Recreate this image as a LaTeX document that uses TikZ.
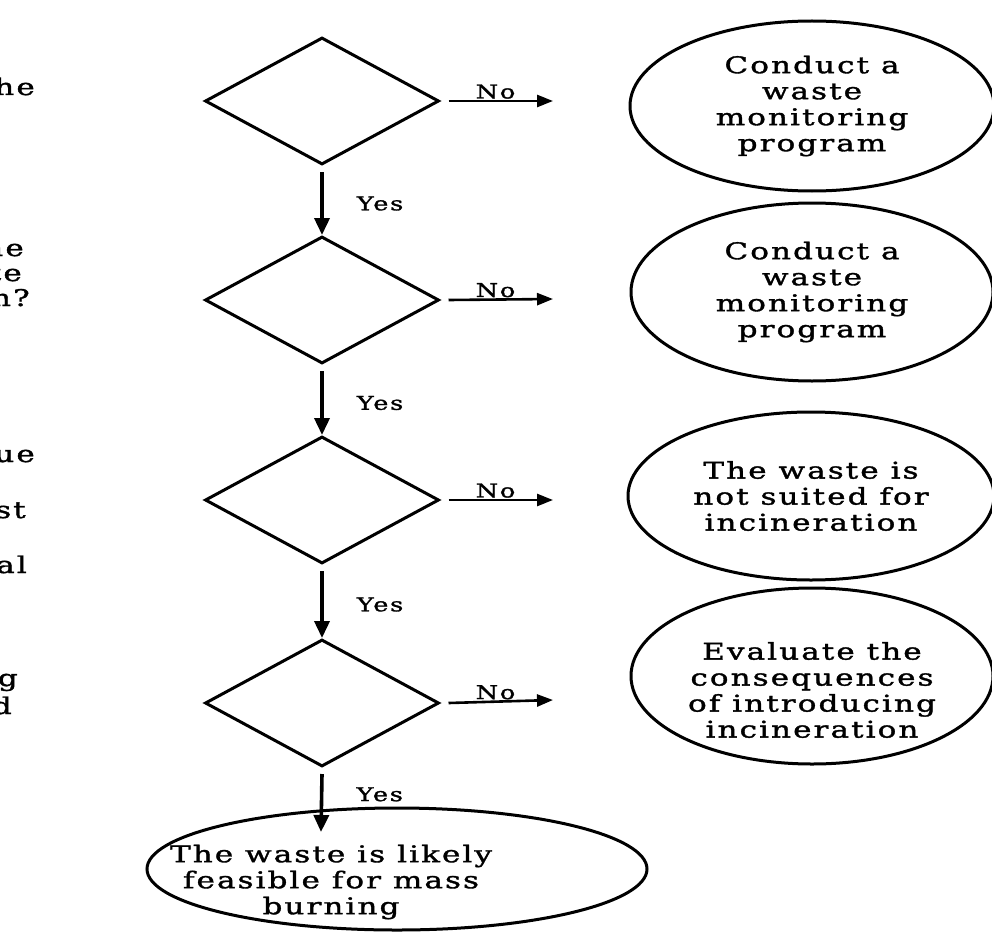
\documentclass[tikz,border=0pt]{standalone}
\usepackage{fontspec}
\setmainfont{DejaVu Serif}[FakeStretch=1.35,LetterSpace=9,FakeBold=1.5]
\usetikzlibrary{shapes.geometric,arrows.meta}
\newcommand{\bodytxt}{\fontsize{23}{26}\selectfont}
\newcommand{\labtxt}{\fontsize{19}{22}\selectfont}
\begin{document}
\begin{tikzpicture}[x=1pt,y=-1pt,
  decision/.style={draw, line width=3pt, diamond, minimum width=234pt,
    minimum height=127pt, inner sep=0pt},
  outcome/.style={draw, line width=3pt, ellipse, inner sep=0pt,
    align=center, font=\bodytxt},
  flow/.style={-{Triangle[length=17pt,width=15pt]}, line width=3.6pt},
  side/.style={-{Triangle[length=16pt,width=12pt]}, line width=2.6pt},
  lab/.style={font=\labtxt, inner sep=1pt},
  frag/.style={anchor=base east, font=\bodytxt, inner sep=0pt}]
\useasboundingbox (0,0) rectangle (992,931);
\clip (0,0) rectangle (992,931);

% question text running in from the left margin
\node[frag] (q1) at (35,95) {the};
\node[frag] (q2) at (24,256) {the};
\node[frag] (q3) at (22,281) {waste};
\node[frag] (q4) at (30,306) {incineration?};
\node[frag] (q5) at (35,462) {value};
\node[frag] (q6) at (26,518) {cost};
\node[frag] (q7) at (27,573) {total};
\node[frag] (q8) at (18,686) {g};
\node[frag] (q9) at (12,714) {d};

% decision diamonds
\node[decision] (d1) at (322,101) {};
\node[decision] (d2) at (322,300) {};
\node[decision] (d3) at (322,500) {};
\node[decision] (d4) at (322,703) {};

% outcomes on the right
\node[outcome, minimum width=364pt, minimum height=170pt] (e1) at (812,106)
  {Conduct a\\waste\\monitoring\\program};
\node[outcome, minimum width=362pt, minimum height=178pt] (e2) at (812,292)
  {Conduct a\\waste\\monitoring\\program};
\node[outcome, minimum width=366pt, minimum height=168pt] (e3) at (811,496)
  {The waste is\\not suited for\\incineration};
\node[outcome, minimum width=362pt, minimum height=176pt] (e4) at (812,676) {};
\node[font=\bodytxt, align=center] (t4) at (812,690)
  {Evaluate the\\consequences\\of introducing\\incineration};

% final outcome
\node[outcome, minimum width=500pt, minimum height=122pt] (fin) at (397,869) {};
\node[font=\bodytxt, align=center] (tfin) at (331,882)
  {The waste is likely\\feasible for mass\\burning};

% "No" branches
\coordinate (n1) at (553,101);
\coordinate (n2) at (553,299);
\coordinate (n3) at (553,500);
\coordinate (n4) at (553,700);
\draw[side] ([xshift=8pt]d1.east) -- (n1) node[lab, pos=0.45, above] {No};
\draw[side] ([xshift=8pt]d2.east) -- (n2) node[lab, pos=0.45, above] {No};
\draw[side] ([xshift=8pt]d3.east) -- (n3) node[lab, pos=0.45, above] {No};
\draw[side] ([xshift=8pt]d4.east) -- (n4) node[lab, pos=0.45, above] {No};

% "Yes" branches
\coordinate (yfin) at (321,832);
\draw[flow] ([yshift=-6pt]d1.south) -- (d2.north) node[lab, midway, right=32pt] {Yes};
\draw[flow] ([yshift=-6pt]d2.south) -- (d3.north) node[lab, midway, right=32pt] {Yes};
\draw[flow] ([yshift=-6pt]d3.south) -- (d4.north) node[lab, midway, right=32pt] {Yes};
\draw[flow] ([yshift=-6pt]d4.south) -- (yfin) node[lab, pos=0.35, right=32pt] {Yes};
\end{tikzpicture}
\end{document}
